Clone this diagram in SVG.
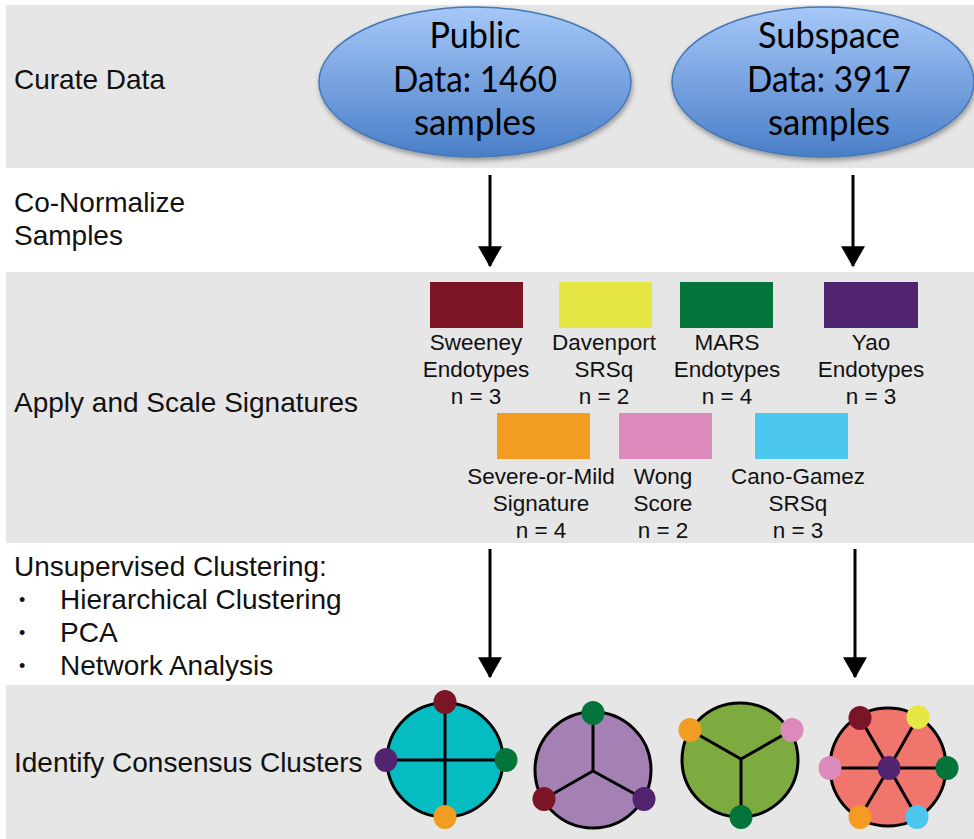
<svg xmlns="http://www.w3.org/2000/svg" width="974" height="839" viewBox="0 0 974 839">
<style>
.band{fill:#e6e6e6}
.lbl{font-family:"Liberation Sans",Arial,sans-serif;font-size:28px;fill:#111}
.bul{font-family:"Liberation Sans",Arial,sans-serif;font-size:18px;fill:#111}
.sig{font-family:"Liberation Sans",Arial,sans-serif;font-size:22.5px;fill:#111;text-anchor:middle}
.ell{font-family:Lato,"Open Sans",sans-serif;font-size:36px;fill:#000;text-anchor:middle}
.arrow{stroke:#000;stroke-width:3;fill:none;marker-end:url(#ah)}
.cl{stroke:#000;stroke-width:3}
.ln{stroke:#000;stroke-width:3;fill:none}
</style>
<defs>
<linearGradient id="blue" x1="0" y1="0" x2="0" y2="1">
<stop offset="0" stop-color="#a6c8f8"/>
<stop offset="1" stop-color="#4a7ec8"/>
</linearGradient>
<filter id="sh" x="-10%" y="-10%" width="120%" height="130%">
<feDropShadow dx="1" dy="3" stdDeviation="2.5" flood-color="#000" flood-opacity="0.35"/>
</filter>
<marker id="ah" markerWidth="8" markerHeight="8" refX="6.6" refY="4" orient="auto" markerUnits="strokeWidth">
<path d="M0,0 L7,4 L0,8 Z" fill="#000"/>
</marker>
</defs>

<g id="bands">
<rect class="band" x="6" y="5" width="968" height="163"/>
<rect class="band" x="6" y="272" width="968" height="271"/>
<rect class="band" x="6" y="685" width="968" height="154"/>
</g>

<g id="stage-labels">
<text class="lbl" x="14" y="89">Curate Data</text>
<text class="lbl" x="14" y="212">Co-Normalize</text>
<text class="lbl" x="14" y="245">Samples</text>
<text class="lbl" x="14" y="412">Apply and Scale Signatures</text>
<text class="lbl" x="14" y="576">Unsupervised Clustering:</text>
<text class="bul" x="19" y="606">•</text>
<text class="lbl" x="60" y="609">Hierarchical Clustering</text>
<text class="bul" x="19" y="639">•</text>
<text class="lbl" x="60" y="642">PCA</text>
<text class="bul" x="19" y="672">•</text>
<text class="lbl" x="60" y="675">Network Analysis</text>
<text class="lbl" x="14" y="772">Identify Consensus Clusters</text>
</g>

<g id="public-data">
<ellipse cx="475" cy="82" rx="156" ry="75" fill="url(#blue)" stroke="#4577b5" stroke-width="1.5" filter="url(#sh)"/>
<text class="ell" x="475" y="48" textLength="91" lengthAdjust="spacingAndGlyphs">Public</text>
<text class="ell" x="475" y="92" textLength="164" lengthAdjust="spacingAndGlyphs">Data: 1460</text>
<text class="ell" x="475" y="135" textLength="122" lengthAdjust="spacingAndGlyphs">samples</text>
</g>

<g id="subspace-data">
<ellipse cx="823" cy="82" rx="151" ry="75" fill="url(#blue)" stroke="#4577b5" stroke-width="1.5" filter="url(#sh)"/>
<text class="ell" x="829" y="48" textLength="142" lengthAdjust="spacingAndGlyphs">Subspace</text>
<text class="ell" x="829" y="92" textLength="164" lengthAdjust="spacingAndGlyphs">Data: 3917</text>
<text class="ell" x="829" y="135" textLength="122" lengthAdjust="spacingAndGlyphs">samples</text>
</g>

<g id="connectors">
<line class="arrow" x1="490" y1="175" x2="490" y2="266"/>
<line class="arrow" x1="853" y1="175" x2="853" y2="266"/>
<line class="arrow" x1="490" y1="549" x2="490" y2="677"/>
<line class="arrow" x1="855" y1="549" x2="855" y2="677"/>
</g>

<g id="sig-sweeney">
<rect x="430" y="282" width="93" height="46" fill="#7b1424"/>
<text class="sig" x="476" y="350">Sweeney</text>
<text class="sig" x="476" y="377">Endotypes</text>
<text class="sig" x="476" y="404">n = 3</text>
</g>
<g id="sig-davenport">
<rect x="559" y="282" width="93" height="46" fill="#e6e645"/>
<text class="sig" x="604" y="350">Davenport</text>
<text class="sig" x="604" y="377">SRSq</text>
<text class="sig" x="604" y="404">n = 2</text>
</g>
<g id="sig-mars">
<rect x="680" y="282" width="93" height="46" fill="#04753a"/>
<text class="sig" x="727" y="350">MARS</text>
<text class="sig" x="727" y="377">Endotypes</text>
<text class="sig" x="727" y="404">n = 4</text>
</g>
<g id="sig-yao">
<rect x="824" y="282" width="94" height="46" fill="#51246f"/>
<text class="sig" x="871" y="350">Yao</text>
<text class="sig" x="871" y="377">Endotypes</text>
<text class="sig" x="871" y="404">n = 3</text>
</g>
<g id="sig-severe">
<rect x="497" y="413" width="93" height="46" fill="#f29c22"/>
<text class="sig" x="541" y="484">Severe-or-Mild</text>
<text class="sig" x="541" y="511">Signature</text>
<text class="sig" x="541" y="538">n = 4</text>
</g>
<g id="sig-wong">
<rect x="619" y="413" width="93" height="46" fill="#dc89bb"/>
<text class="sig" x="663" y="484">Wong</text>
<text class="sig" x="663" y="511">Score</text>
<text class="sig" x="663" y="538">n = 2</text>
</g>
<g id="sig-cano">
<rect x="755" y="413" width="93" height="46" fill="#4bc6ee"/>
<text class="sig" x="798" y="484">Cano-Gamez</text>
<text class="sig" x="798" y="511">SRSq</text>
<text class="sig" x="798" y="538">n = 3</text>
</g>

<g id="cluster-1">
<ellipse class="cl" cx="445" cy="760" rx="58" ry="57" fill="#04bcc1"/>
<path class="ln" d="M445,702 V817 M386,760 H506"/>
<ellipse cx="445" cy="702" rx="11.5" ry="12" fill="#7b1424"/>
<ellipse cx="386" cy="760" rx="11.5" ry="12" fill="#51246f"/>
<ellipse cx="506" cy="760" rx="11.5" ry="12" fill="#04753a"/>
<ellipse cx="445" cy="817" rx="11.5" ry="12" fill="#f29c22"/>
</g>

<g id="cluster-2">
<ellipse class="cl" cx="593" cy="770" rx="58" ry="58" fill="#a580b5"/>
<path class="ln" d="M593,713 L593,771 L544,799 M593,771 L644,799"/>
<ellipse cx="593" cy="713" rx="11.5" ry="12" fill="#04753a"/>
<ellipse cx="544" cy="799" rx="11.5" ry="12" fill="#7b1424"/>
<ellipse cx="644" cy="799" rx="11.5" ry="12" fill="#51246f"/>
</g>

<g id="cluster-3">
<ellipse class="cl" cx="740" cy="760" rx="58" ry="57" fill="#7eab3f"/>
<path class="ln" d="M690,730 L741,759 L792,730 M741,759 L741,817"/>
<ellipse cx="690" cy="730" rx="11.5" ry="12" fill="#f29c22"/>
<ellipse cx="792" cy="730" rx="11.5" ry="12" fill="#dc89bb"/>
<ellipse cx="741" cy="817" rx="11.5" ry="12" fill="#04753a"/>
</g>

<g id="cluster-4">
<ellipse class="cl" cx="888" cy="767" rx="58" ry="59" fill="#f0756d"/>
<path class="ln" d="M889,768 L860,718 M889,768 L918,717 M889,768 L830,768 M889,768 L947,768 M889,768 L860,817 M889,768 L917,817"/>
<ellipse cx="860" cy="718" rx="11.5" ry="12" fill="#7b1424"/>
<ellipse cx="918" cy="717" rx="11.5" ry="12" fill="#e6e645"/>
<ellipse cx="830" cy="768" rx="11.5" ry="12" fill="#dc89bb"/>
<ellipse cx="889" cy="768" rx="11.5" ry="12" fill="#51246f"/>
<ellipse cx="947" cy="768" rx="11.5" ry="12" fill="#04753a"/>
<ellipse cx="860" cy="817" rx="11.5" ry="12" fill="#f29c22"/>
<ellipse cx="917" cy="817" rx="11.5" ry="12" fill="#4bc6ee"/>
</g>
</svg>
